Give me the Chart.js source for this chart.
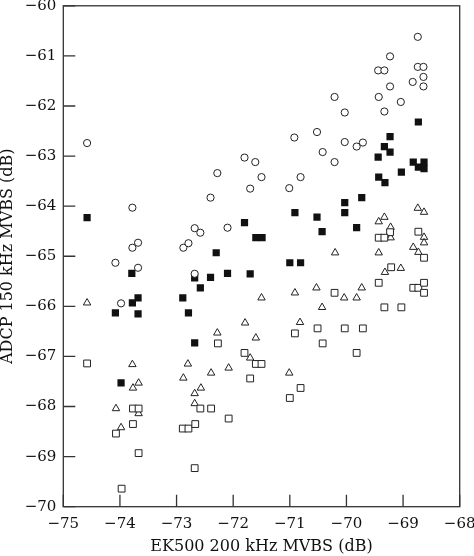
<!DOCTYPE html>
<html>
<head>
<meta charset="utf-8">
<script src="https://cdn.jsdelivr.net/npm/chart.js@4.4.1/dist/chart.umd.min.js"></script>
<style>
	html, body { margin: 0; padding: 0; background: #ffffff; }
	#box { width: 474px; height: 556px; }
</style>
</head>
<body>
<div id="box"><canvas id="mvbsChart" width="474" height="556"></canvas></div>
<script>
// axis ranges and tick labels
var xTicks = [-75, -74, -73, -72, -71, -70, -69, -68];
var yTicks = [-70, -69, -68, -67, -66, -65, -64, -63, -62, -61, -60];

// open circles
var circleX = [-74.58, -73.78, -73.68, -73.78, -74.08, -73.68, -73.98, -72.88, -72.79, -72.68, -72.58, -72.40, -72.28, -72.10, -71.80, -71.61, -71.70, -71.50, -72.68, -71.01, -70.81, -70.92, -70.52, -70.42, -70.21, -70.03, -69.82, -69.71, -70.21, -70.03, -68.74, -69.23, -69.44, -69.33, -68.74, -68.64, -68.64, -68.83, -68.64, -69.23, -69.43, -69.04, -69.33];
var circleY = [-62.74, -64.03, -64.73, -64.83, -65.13, -65.23, -65.94, -64.83, -64.74, -64.44, -64.53, -63.83, -63.34, -64.43, -63.03, -63.12, -63.65, -63.42, -65.35, -63.64, -63.42, -62.63, -62.52, -62.92, -63.12, -62.72, -62.81, -62.73, -61.82, -62.13, -60.62, -61.01, -61.29, -61.29, -61.22, -61.22, -61.42, -61.52, -61.61, -61.61, -61.82, -61.92, -62.11];

// filled squares
var filledX = [-74.58, -73.79, -73.68, -73.78, -74.08, -73.68, -73.98, -72.30, -72.40, -72.10, -71.80, -71.70, -71.60, -71.49, -72.68, -72.89, -72.58, -72.79, -72.68, -71.00, -70.81, -70.91, -70.52, -70.43, -70.03, -70.03, -69.73, -69.82, -68.73, -69.23, -69.33, -69.23, -69.44, -68.82, -68.73, -68.63, -68.63, -69.03, -69.43, -69.32];
var filledY = [-64.23, -65.34, -65.83, -65.93, -66.13, -66.15, -67.53, -64.93, -65.42, -65.34, -64.33, -65.35, -64.63, -64.63, -65.43, -65.83, -65.63, -66.13, -66.73, -65.13, -65.13, -64.13, -64.22, -64.51, -63.93, -64.13, -63.83, -64.43, -62.32, -62.61, -62.81, -62.92, -63.02, -63.12, -63.22, -63.12, -63.25, -63.32, -63.42, -63.53];

// open triangles
var triX = [-74.58, -72.28, -71.79, -71.60, -71.50, -73.78, -72.80, -72.88, -72.39, -72.08, -73.67, -73.77, -72.57, -72.68, -72.68, -74.07, -73.67, -73.98, -71.70, -70.91, -70.53, -70.43, -70.04, -69.82, -69.73, -70.82, -71.01, -70.20, -69.33, -69.43, -69.22, -69.22, -69.43, -69.32, -69.04, -68.74, -68.63, -68.63, -68.63, -68.82, -68.73];
var triY = [-65.93, -66.53, -66.33, -66.63, -65.83, -67.16, -67.15, -67.43, -67.33, -67.23, -67.53, -67.63, -67.63, -67.74, -67.94, -68.04, -68.14, -68.42, -67.03, -65.73, -65.63, -66.02, -65.83, -65.83, -65.63, -66.32, -67.33, -64.93, -64.22, -64.31, -64.42, -64.63, -64.93, -65.32, -65.24, -64.04, -64.12, -64.62, -64.73, -64.82, -64.92];

// open squares
var sqX = [-74.58, -72.27, -71.80, -71.60, -71.50, -71.70, -73.77, -73.67, -72.58, -72.39, -72.08, -73.77, -74.07, -72.89, -72.79, -72.67, -73.67, -72.68, -73.97, -70.91, -70.51, -70.42, -70.21, -70.03, -69.71, -69.82, -70.81, -71.00, -69.43, -69.33, -69.03, -68.82, -68.73, -68.63, -68.63, -69.23, -69.43, -69.33, -68.73, -68.63, -69.21];
var sqY = [-67.14, -66.74, -66.93, -67.15, -67.15, -67.44, -68.04, -68.04, -68.04, -68.04, -68.24, -68.35, -68.54, -68.44, -68.44, -68.35, -68.93, -69.23, -69.64, -66.54, -66.44, -66.74, -65.73, -66.44, -66.44, -66.93, -67.63, -67.83, -65.53, -66.02, -66.02, -65.63, -65.63, -65.53, -65.73, -64.52, -64.63, -64.63, -64.51, -65.03, -65.22];

function pairs(xs, ys) {
	return xs.map(function(x, i) { return {x: x, y: ys[i]}; });
}

function minusLabel(v) {
	return (v < 0 ? '\u2212' : '') + Math.abs(v);
}

var serif = "'DejaVu Serif', 'Liberation Serif', serif";

// box frame with inward ticks on left and bottom
var frameTicks = {
	id: 'frameTicks',
	afterDatasetsDraw: function(chart) {
		var ctx = chart.ctx, a = chart.chartArea;
		var xs = chart.scales.x, ys = chart.scales.y;
		ctx.save();
		ctx.strokeStyle = '#333333';
		ctx.lineWidth = 1.3;
		ctx.strokeRect(a.left, a.top, a.right - a.left, a.bottom - a.top);
		ctx.beginPath();
		xTicks.forEach(function(v) {
			var px = xs.getPixelForValue(v);
			ctx.moveTo(px, a.bottom);
			ctx.lineTo(px, a.bottom - 12);
		});
		yTicks.forEach(function(v) {
			var py = ys.getPixelForValue(v);
			ctx.moveTo(a.left, py);
			ctx.lineTo(a.left + 12, py);
		});
		ctx.stroke();
		ctx.restore();
	}
};

var mvbsChart = new Chart(document.getElementById('mvbsChart'), {
	type: 'scatter',
	data: {
		datasets: [{
			data: pairs(circleX, circleY),
			pointStyle: 'circle',
			pointRadius: 3.6,
			borderWidth: 1,
			borderColor: '#222222',
			backgroundColor: '#ffffff'
		}, {
			data: pairs(sqX, sqY),
			pointStyle: 'rect',
			pointRadius: 4.8,
			borderWidth: 1,
			borderColor: '#222222',
			backgroundColor: '#ffffff'
		}, {
			data: pairs(triX, triY),
			pointStyle: 'triangle',
			pointRadius: 4.3,
			borderWidth: 1,
			borderColor: '#222222',
			backgroundColor: '#ffffff'
		}, {
			data: pairs(filledX, filledY),
			pointStyle: 'rect',
			pointRadius: 5.1,
			borderWidth: 0,
			borderColor: '#111111',
			backgroundColor: '#111111'
		}]
	},
	plugins: [frameTicks],
	options: {
		responsive: false,
		animation: false,
		events: [],
		layout: {
			padding: {top: 5.7, right: 14.3, left: 0, bottom: 0}
		},
		plugins: {
			legend: { display: false },
			tooltip: { enabled: false }
		},
		scales: {
			x: {
				type: 'linear',
				min: -75,
				max: -68,
				grid: { display: false, drawTicks: false },
				border: { display: false },
				afterBuildTicks: function(s) { s.ticks = xTicks.map(function(v) { return {value: v}; }); },
				afterFit: function(s) { s.height = 49.3; s.paddingLeft = 0; s.paddingRight = 0; },
				ticks: {
					color: '#111111',
					padding: 8,
					maxRotation: 0,
					font: { family: serif, size: 15 },
					callback: minusLabel
				},
				title: {
					display: true,
					text: 'EK500 200 kHz MVBS (dB)',
					color: '#111111',
					padding: {top: 0, bottom: 1.3},
					font: { family: serif, size: 16, lineHeight: 1 }
				}
			},
			y: {
				type: 'linear',
				min: -70,
				max: -60,
				grid: { display: false, drawTicks: false },
				border: { display: false },
				afterBuildTicks: function(s) { s.ticks = yTicks.map(function(v) { return {value: v}; }); },
				afterFit: function(s) { s.width = 63.3; s.paddingTop = 0; s.paddingBottom = 0; },
				ticks: {
					color: '#111111',
					padding: 7,
					font: { family: serif, size: 15 },
					callback: minusLabel
				},
				title: {
					display: true,
					text: 'ADCP 150 kHz MVBS (dB)',
					color: '#111111',
					padding: {top: 0, bottom: 0},
					font: { family: serif, size: 16, lineHeight: 1 }
				}
			}
		}
	}
});
</script>
</body>
</html>
